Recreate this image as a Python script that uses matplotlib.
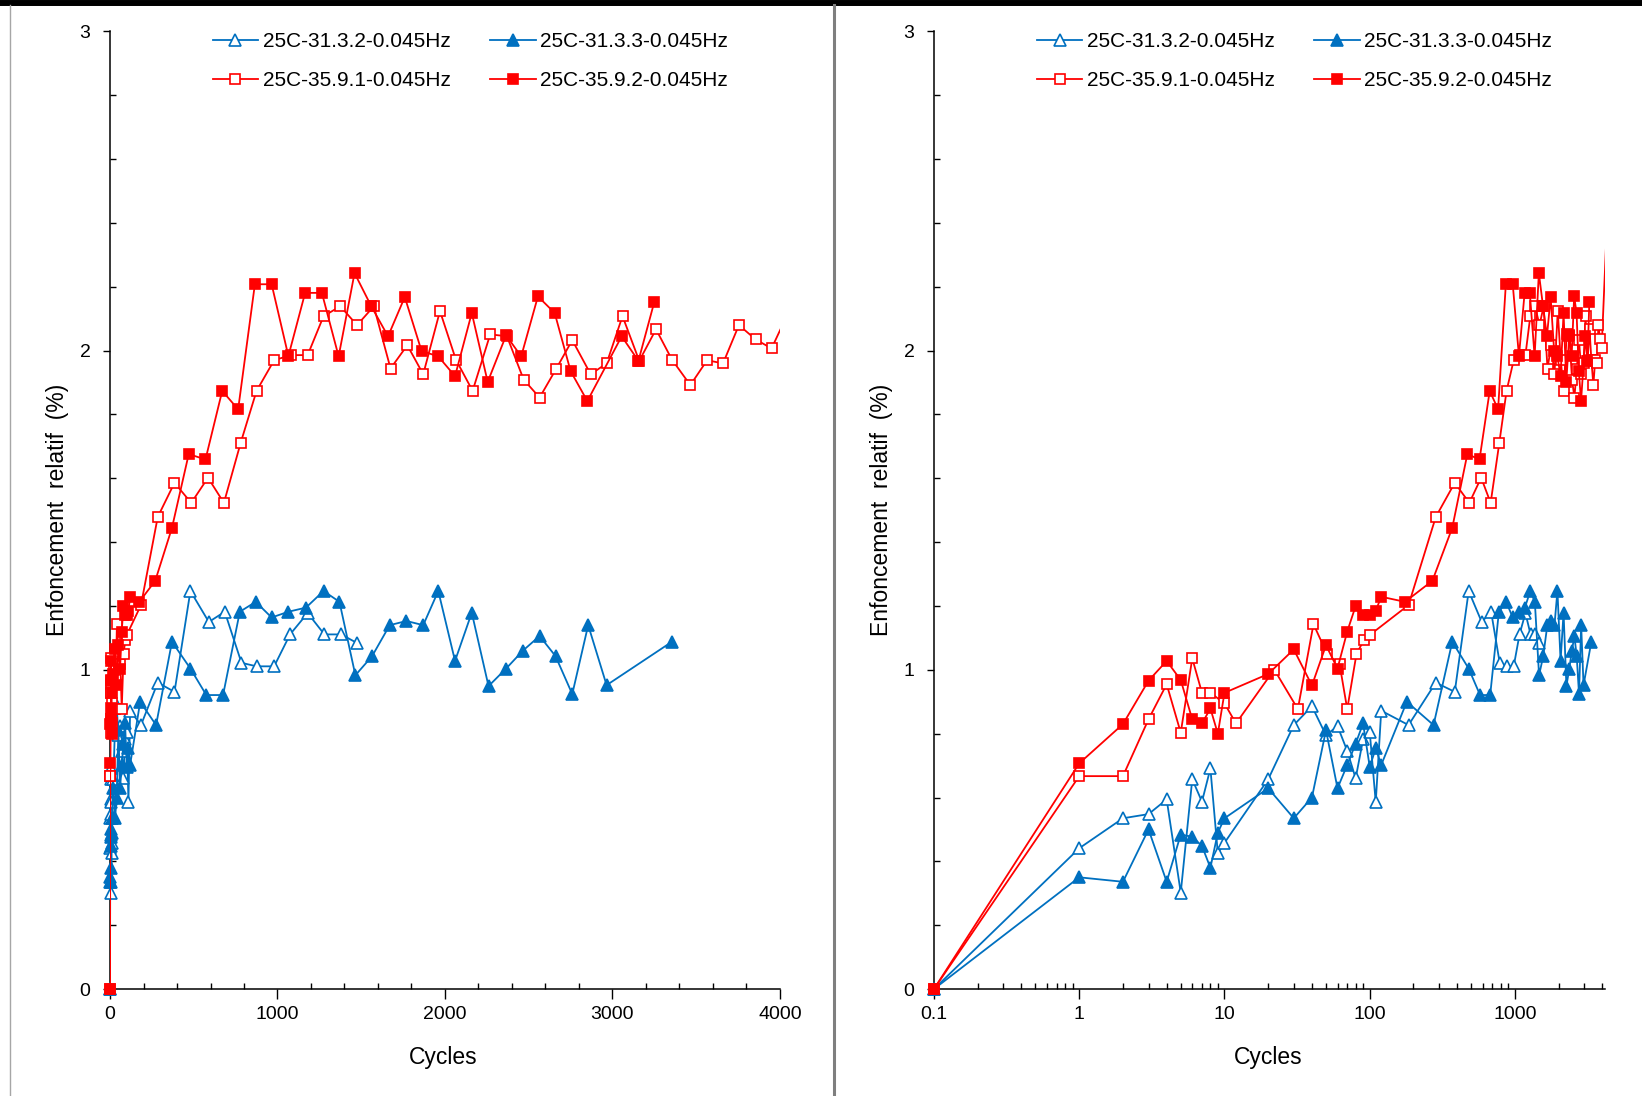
import matplotlib.pyplot as plt
import numpy as np
from matplotlib.lines import Line2D
from matplotlib.ticker import FixedLocator, LogLocator, MultipleLocator, NullFormatter

plt.rcParams['font.family'] = ['Liberation Sans', 'DejaVu Sans']

# 25C-31.3.2-0.045Hz (open triangles)
cycles_a = [0, 1, 2, 3, 4, 5, 6, 7, 8, 9, 10, 20, 30, 40, 50, 60, 70, 80, 90, 100,
            110, 120, 185, 285, 385, 480, 590, 685, 785, 875, 980, 1075, 1180, 1280,
            1380, 1475]
depth_a = [0, 0.441, 0.535, 0.548, 0.594, 0.302, 0.657, 0.587, 0.691, 0.425, 0.458,
           0.657, 0.827, 0.886, 0.795, 0.824, 0.746, 0.660, 0.782, 0.806,
           0.585, 0.872, 0.827, 0.960, 0.931, 1.247, 1.150, 1.182, 1.022, 1.011,
           1.011, 1.111, 1.178, 1.111, 1.111, 1.084]

# 25C-31.3.3-0.045Hz (filled triangles)
cycles_b = [0, 1, 2, 3, 4, 5, 6, 7, 8, 9, 10, 20, 30, 40, 50, 60, 70, 80, 90, 100,
            110, 120, 180, 275, 370, 480, 575, 675, 775, 870, 965, 1065, 1170, 1275,
            1370, 1465, 1565, 1670, 1770, 1870, 1960, 2060, 2160, 2260, 2365, 2465,
            2565, 2660, 2760, 2855, 2965, 3355]
depth_b = [0, 0.350, 0.336, 0.500, 0.336, 0.484, 0.477, 0.448, 0.380, 0.490, 0.535,
           0.629, 0.535, 0.600, 0.811, 0.629, 0.702, 0.769, 0.832, 0.696,
           0.754, 0.702, 0.900, 0.827, 1.088, 1.004, 0.921, 0.921, 1.182, 1.213,
           1.164, 1.182, 1.195, 1.247, 1.213, 0.983, 1.043, 1.140, 1.153, 1.140,
           1.247, 1.028, 1.179, 0.949, 1.004, 1.060, 1.106, 1.043, 0.924, 1.140,
           0.952, 1.088]

# 25C-35.9.1-0.045Hz (open squares)
cycles_c = [0, 1, 2, 3, 4, 5, 6, 7, 8, 10, 12, 22, 32, 41, 51, 62, 70, 81, 91, 100,
            185, 285, 385, 485, 585, 680, 780, 875, 980, 1080, 1180, 1275, 1375,
            1475, 1575, 1675, 1775, 1870, 1970, 2065, 2165, 2270, 2370, 2470, 2565,
            2665, 2760, 2870, 2965, 3060, 3160, 3260, 3355, 3465, 3565, 3660, 3755,
            3855, 3950, 4300]
depth_c = [0, 0.667, 0.667, 0.845, 0.955, 0.803, 1.036, 0.928, 0.928, 0.895, 0.832,
           1.001, 0.877, 1.143, 1.049, 1.018, 0.877, 1.049, 1.093, 1.109,
           1.203, 1.479, 1.586, 1.523, 1.602, 1.523, 1.711, 1.874, 1.970, 1.986,
           1.986, 2.108, 2.139, 2.080, 2.139, 1.944, 2.017, 1.926, 2.124, 1.972,
           1.874, 2.051, 2.045, 1.909, 1.853, 1.944, 2.033, 1.926, 1.960, 2.108,
           1.968, 2.067, 1.972, 1.892, 1.970, 1.960, 2.080, 2.035, 2.007, 2.400]

# 25C-35.9.2-0.045Hz (filled squares)
cycles_d = [0, 1, 2, 3, 4, 5, 6, 7, 8, 9, 10, 20, 30, 40, 50, 60, 70, 80, 90, 100,
            110, 120, 175, 270, 370, 470, 570, 670, 765, 865, 965, 1065, 1165, 1265,
            1365, 1460, 1560, 1660, 1760, 1860, 1960, 2060, 2160, 2255, 2365, 2455,
            2555, 2655, 2750, 2850, 3055, 3155, 3250]
depth_d = [0, 0.707, 0.830, 0.966, 1.028, 0.968, 0.845, 0.832, 0.879, 0.800, 0.928,
           0.987, 1.064, 0.951, 1.077, 1.004, 1.120, 1.200, 1.171, 1.171,
           1.185, 1.229, 1.213, 1.279, 1.445, 1.676, 1.659, 1.874, 1.816, 2.208,
           2.208, 1.983, 2.181, 2.181, 1.982, 2.243, 2.139, 2.045, 2.168, 1.999,
           1.982, 1.920, 2.118, 1.902, 2.048, 1.982, 2.170, 2.118, 1.936, 1.842,
           2.045, 1.968, 2.153]

BLUE = '#0070C0'
RED = '#FF0000'

series = [
    ('25C-31.3.2-0.045Hz', cycles_a, depth_a, BLUE, '^', False),
    ('25C-31.3.3-0.045Hz', cycles_b, depth_b, BLUE, '^', True),
    ('25C-35.9.1-0.045Hz', cycles_c, depth_c, RED, 's', False),
    ('25C-35.9.2-0.045Hz', cycles_d, depth_d, RED, 's', True),
]


def marker_style(color, marker, filled):
    size = 8 if marker == '^' else 7
    return dict(marker=marker, markersize=size, markeredgecolor=color,
                markerfacecolor=color if filled else 'white', markeredgewidth=1.2)


def draw_panel(ax, log_x, xmax):
    for i, (label, cyc, dep, color, marker, filled) in enumerate(series):
        x = np.array(cyc, dtype=float)
        y = np.array(dep)
        if log_x:
            x = np.where(x == 0, 0.1, x)
        ax.plot(x, y, color=color, lw=1.3, zorder=2 + 2 * i)
        # markers are drawn unclipped so the ones on the axes are whole
        inside = x <= xmax
        ax.plot(x[inside], y[inside], ls='none', clip_on=False, zorder=3 + 2 * i,
                **marker_style(color, marker, filled))

    ax.set_ylim(0, 3)
    ax.set_xlim(0.1 if log_x else 0, xmax)
    for side in ('top', 'right'):
        ax.spines[side].set_visible(False)
    for side in ('left', 'bottom'):
        ax.spines[side].set_linewidth(1.1)

    ax.yaxis.set_major_locator(FixedLocator([0, 1, 2, 3]))
    ax.yaxis.set_minor_locator(MultipleLocator(0.2))
    ax.tick_params(axis='y', which='major', direction='out', length=5, width=1,
                   pad=9, labelsize=14)
    ax.tick_params(axis='y', which='minor', direction='in', length=4, width=1)

    if log_x:
        ax.set_xscale('log')
        ax.xaxis.set_major_locator(FixedLocator([0.1, 1, 10, 100, 1000]))
        ax.set_xticklabels(['0.1', '1', '10', '100', '1000'])
        ax.xaxis.set_minor_locator(LogLocator(base=10, subs=np.arange(2, 10)))
        ax.xaxis.set_minor_formatter(NullFormatter())
    else:
        ax.xaxis.set_major_locator(FixedLocator([0, 1000, 2000, 3000, 4000]))
        ax.xaxis.set_minor_locator(MultipleLocator(200))
    ax.tick_params(axis='x', which='major', direction='out', length=7, width=1,
                   pad=5, labelsize=14)
    ax.tick_params(axis='x', which='minor', direction='in', length=4, width=1)

    ax.set_xlabel('Cycles', fontsize=16.5, va='center')
    ax.xaxis.set_label_coords(0.498, -0.072)
    ax.set_ylabel('Enfoncement  relatif  (%)', fontsize=16.5, va='center')
    ax.yaxis.set_label_coords(-0.078, 0.5)

    handles = []
    for label, cyc, dep, color, marker, filled in series:
        handles.append(Line2D([], [], color=color, lw=1.3, label=label,
                              **marker_style(color, marker, filled)))
    order = [0, 2, 1, 3]
    ax.legend([handles[k] for k in order], [series[k][0] for k in order],
              ncol=2, frameon=False, fontsize=15, loc='upper left',
              bbox_to_anchor=(0.153, 0.999), borderaxespad=0, borderpad=0,
              handlelength=2.2, handletextpad=0.2, columnspacing=1.9,
              labelspacing=0.95)


fig = plt.figure(figsize=(16.42, 10.96), dpi=100)
ax_lin = fig.add_axes([0.0670, 0.0976, 0.4080, 0.8737])
ax_log = fig.add_axes([0.5688, 0.0976, 0.4087, 0.8737])

draw_panel(ax_lin, False, 4000)
draw_panel(ax_log, True, 4170)

# frame lines of the original screenshot
fig.add_artist(Line2D([0, 1], [1 - 3 / 1096] * 2, color='black', lw=4.3))
fig.add_artist(Line2D([10 / 1642] * 2, [0, 1 - 5 / 1096], color='#A6A6A6', lw=1))
fig.add_artist(Line2D([834 / 1642] * 2, [0, 1 - 5 / 1096], color='#7F7F7F', lw=2.2))

fig.savefig('out.png', dpi=100)
